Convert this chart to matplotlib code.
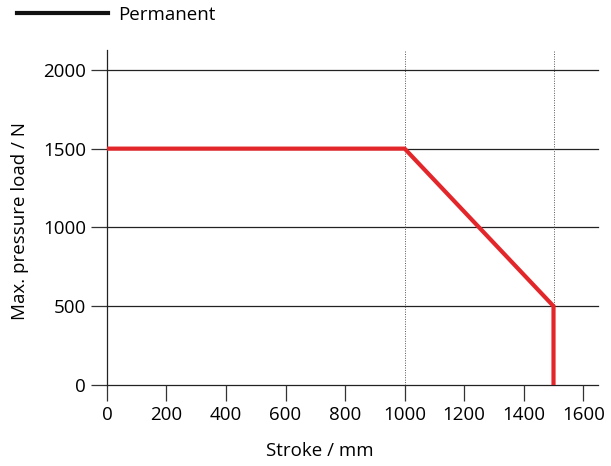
from matplotlib import pyplot as plt
from matplotlib.lines import Line2D

# load curve (stroke in mm, max. pressure load in N)
stroke = [0, 1000, 1500, 1500]
load = [1500, 1500, 500, 0]
x_ticks = [0, 200, 400, 600, 800, 1000, 1200, 1400, 1600]
y_ticks = [0, 500, 1000, 1500, 2000]
marker_lines = [1000, 1500]

plt.rcParams['font.family'] = ['Open Sans', 'DejaVu Sans']
plt.rcParams['font.size'] = 13.5

fig = plt.figure(figsize=(6.11, 4.66), dpi=100)
ax = fig.add_axes([0.175, 0.174, 0.804, 0.719])

for y in y_ticks:
    ax.axhline(y, color='#222222', lw=0.9, zorder=1, clip_on=False)
for x in marker_lines:
    ax.axvline(x, color='#555555', lw=0.7, ls=(0, (1, 1.5)), zorder=1)

ax.plot(stroke, load, color='#e3262a', lw=3, solid_joinstyle='miter', zorder=3)

ax.set_xlim(0, 1650)
ax.set_ylim(0, 2127)
ax.set_xticks(x_ticks)
ax.set_yticks(y_ticks)
ax.tick_params(direction='out', length=11.5, width=0.9, color='#333333',
               labelsize=13.5, pad=3.5)
for side in ['top', 'right', 'bottom']:
    ax.spines[side].set_visible(False)
ax.spines['left'].set_color('#222222')
ax.spines['left'].set_linewidth(0.9)

ax.set_xlabel('Stroke / mm')
ax.set_ylabel('Max. pressure load / N')
ax.xaxis.set_label_coords(0.434, -0.197)
ax.yaxis.set_label_coords(-0.177, 0.49)
ax.xaxis.label.set_va('center')
ax.yaxis.label.set_va('center')

handle = Line2D([], [], color='#111111', lw=3)
fig.legend([handle], ['Permanent'], loc='center left',
           bbox_to_anchor=(17 / 611, 1 - 15 / 466), borderpad=0, borderaxespad=0,
           frameon=False, handlelength=4.85, handletextpad=0.53, fontsize=13.5)

fig.savefig('out.png', dpi=100)
